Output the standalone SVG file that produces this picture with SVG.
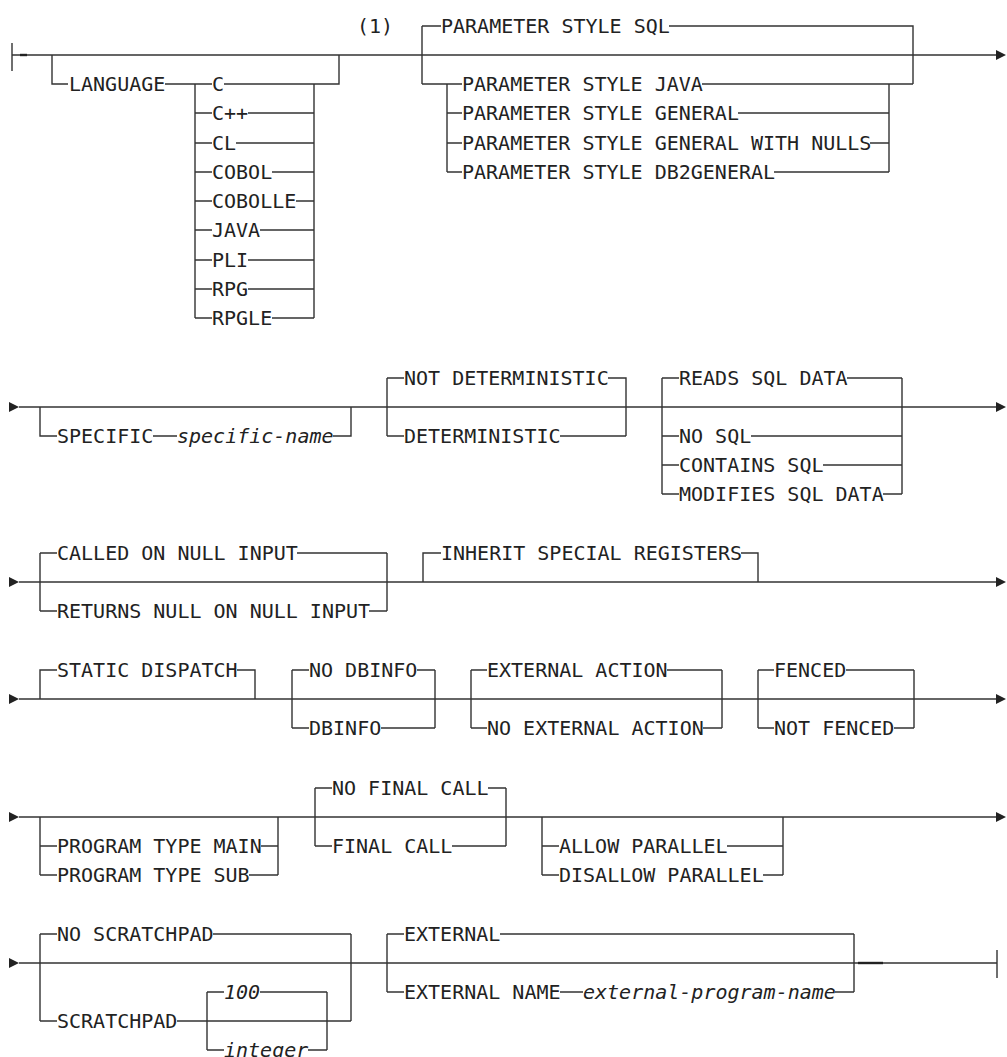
<svg xmlns="http://www.w3.org/2000/svg" width="1007" height="1057" viewBox="0 0 1007 1057">
  <style>
    .ln { fill: none; stroke: #333; stroke-width: 1.4; }
    .hv { fill: none; stroke: #222; stroke-width: 2.4; }
    .ah { fill: #222; stroke: none; }
    text { font-family: "DejaVu Sans Mono", "Liberation Mono", monospace; font-size: 20px; fill: #222; }
    .var { font-style: italic; }
  </style>
  <defs>
    <polygon id="arr" class="ah" points="0,-5 10,0 0,5"/>
  </defs>

  <!-- main tracks -->
  <g id="connectors">
    <path class="ln" d="M12,43 V71 M12,55 H997"/>
    <path class="hv" d="M20,55 H27"/>
    <use href="#arr" x="996" y="55"/>

    <use href="#arr" x="9" y="407"/>
    <path class="ln" d="M19,407 H997"/>
    <use href="#arr" x="996" y="407"/>

    <use href="#arr" x="9" y="582"/>
    <path class="ln" d="M19,582 H997"/>
    <use href="#arr" x="996" y="582"/>

    <use href="#arr" x="9" y="699"/>
    <path class="ln" d="M19,699 H997"/>
    <use href="#arr" x="996" y="699"/>

    <use href="#arr" x="9" y="817"/>
    <path class="ln" d="M19,817 H997"/>
    <use href="#arr" x="996" y="817"/>

    <use href="#arr" x="9" y="963"/>
    <path class="ln" d="M19,963 H997 M997,950 V978"/>
    <path class="hv" d="M858,963 H883"/>
  </g>

  <!-- LANGUAGE clause -->
  <g id="language">
    <path class="ln" d="M52,55 V84 H68 M165,84 H212 M195,84 V318
      M195,113 H212 M195,143 H212 M195,172 H212 M195,201 H212 M195,230 H212 M195,260 H212 M195,289 H212 M195,318 H212
      M224,84 H314 M248,113 H314 M236,143 H314 M272,172 H314 M296,201 H314 M260,230 H314 M248,260 H314 M248,289 H314 M272,318 H314
      M314,84 V318 M314,84 H339 V55"/>
    <text x="69" y="91">LANGUAGE</text>
    <text x="212" y="91">C</text>
    <text x="212" y="120">C++</text>
    <text x="212" y="150">CL</text>
    <text x="212" y="179">COBOL</text>
    <text x="212" y="208">COBOLLE</text>
    <text x="212" y="237">JAVA</text>
    <text x="212" y="267">PLI</text>
    <text x="212" y="296">RPG</text>
    <text x="212" y="325">RPGLE</text>
  </g>

  <g id="note">
    <text x="357" y="33">(1)</text>
  </g>

  <!-- PARAMETER STYLE clause -->
  <g id="parameter-style">
    <path class="ln" d="M422,26 V84 M422,26 H441 M669,26 H913 V84 M422,84 H462 M702,84 H913
      M447,84 V172 M447,113 H462 M447,143 H462 M447,172 H462
      M738,113 H889 M870,143 H889 M774,172 H889 M889,84 V172"/>
    <text x="441" y="33">PARAMETER STYLE SQL</text>
    <text x="462" y="91">PARAMETER STYLE JAVA</text>
    <text x="462" y="120">PARAMETER STYLE GENERAL</text>
    <text x="462" y="150">PARAMETER STYLE GENERAL WITH NULLS</text>
    <text x="462" y="179">PARAMETER STYLE DB2GENERAL</text>
  </g>

  <!-- SPECIFIC clause -->
  <g id="specific">
    <path class="ln" d="M40,407 V436 H57 M153,436 H177 M333,436 H351 V407"/>
    <text x="57" y="443">SPECIFIC</text>
    <text class="var" x="177" y="443">specific-name</text>
  </g>

  <g id="deterministic">
    <path class="ln" d="M387,378 V436 M387,378 H404 M387,436 H404 M608,378 H626 V436 M560,436 H626"/>
    <text x="404" y="385">NOT DETERMINISTIC</text>
    <text x="404" y="443">DETERMINISTIC</text>
  </g>

  <g id="sql-data">
    <path class="ln" d="M662,378 V494 M662,378 H679 M662,436 H679 M662,465 H679 M662,494 H679
      M847,378 H902 M751,436 H902 M823,465 H902 M883,494 H902 M902,378 V494"/>
    <text x="679" y="385">READS SQL DATA</text>
    <text x="679" y="443">NO SQL</text>
    <text x="679" y="472">CONTAINS SQL</text>
    <text x="679" y="501">MODIFIES SQL DATA</text>
  </g>

  <!-- null input handling -->
  <g id="null-input">
    <path class="ln" d="M40,553 V611 M40,553 H57 M40,611 H57 M297,553 H387 M369,611 H387 M387,553 V611"/>
    <text x="57" y="560">CALLED ON NULL INPUT</text>
    <text x="57" y="618">RETURNS NULL ON NULL INPUT</text>
  </g>

  <g id="special-registers">
    <path class="ln" d="M423,582 V553 H441 M741,553 H758 V582"/>
    <text x="441" y="560">INHERIT SPECIAL REGISTERS</text>
  </g>

  <g id="dispatch">
    <path class="ln" d="M40,699 V670 H57 M237,670 H255 V699"/>
    <text x="57" y="677">STATIC DISPATCH</text>
  </g>

  <g id="dbinfo">
    <path class="ln" d="M292,670 V728 M292,670 H309 M292,728 H309 M417,670 H435 M381,728 H435 M435,670 V728"/>
    <text x="309" y="677">NO DBINFO</text>
    <text x="309" y="735">DBINFO</text>
  </g>

  <g id="external-action">
    <path class="ln" d="M471,670 V728 M471,670 H487 M471,728 H487 M667,670 H722 M703,728 H722 M722,670 V728"/>
    <text x="487" y="677">EXTERNAL ACTION</text>
    <text x="487" y="735">NO EXTERNAL ACTION</text>
  </g>

  <g id="fenced">
    <path class="ln" d="M758,670 V728 M758,670 H774 M758,728 H774 M846,670 H914 M894,728 H914 M914,670 V728"/>
    <text x="774" y="677">FENCED</text>
    <text x="774" y="735">NOT FENCED</text>
  </g>

  <g id="program-type">
    <path class="ln" d="M40,817 V875 M40,846 H57 M40,875 H57 M261,846 H278 M249,875 H278 M278,817 V875"/>
    <text x="57" y="853">PROGRAM TYPE MAIN</text>
    <text x="57" y="882">PROGRAM TYPE SUB</text>
  </g>

  <g id="final-call">
    <path class="ln" d="M315,788 V846 M315,788 H332 M315,846 H332 M488,788 H506 M452,846 H506 M506,788 V846"/>
    <text x="332" y="795">NO FINAL CALL</text>
    <text x="332" y="853">FINAL CALL</text>
  </g>

  <g id="parallel">
    <path class="ln" d="M542,817 V875 M542,846 H559 M542,875 H559 M727,846 H783 M763,875 H783 M783,817 V875"/>
    <text x="559" y="853">ALLOW PARALLEL</text>
    <text x="559" y="882">DISALLOW PARALLEL</text>
  </g>

  <g id="scratchpad">
    <path class="ln" d="M40,934 V1021 M40,934 H57 M40,1021 H57 M213,934 H351 M177,1021 H351 M351,934 V1021"/>
    <text x="57" y="941">NO SCRATCHPAD</text>
    <text x="57" y="1028">SCRATCHPAD</text>
  </g>

  <g id="scratchpad-size">
    <path class="ln" d="M207,992 V1050 M207,992 H224 M207,1050 H224 M260,992 H327 M308,1050 H327 M327,992 V1050"/>
    <text class="var" x="224" y="999">100</text>
    <text class="var" x="224" y="1057">integer</text>
  </g>

  <g id="external-name">
    <path class="ln" d="M387,934 V992 M387,934 H404 M387,992 H404 M500,934 H854 M560,992 H583 M835,992 H854 M854,934 V992"/>
    <text x="404" y="941">EXTERNAL</text>
    <text x="404" y="999">EXTERNAL NAME</text>
    <text class="var" x="583" y="999">external-program-name</text>
  </g>
</svg>
